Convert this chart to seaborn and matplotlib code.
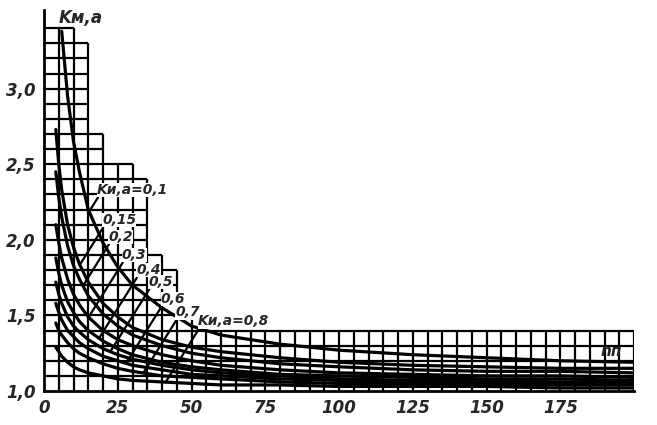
import numpy as np
import pandas as pd
import matplotlib
matplotlib.use("Agg")
import matplotlib.pyplot as plt
import seaborn as sns

# ---- data ----
n_vals = [4, 5, 6, 8, 10, 12, 15, 20, 25, 30, 40, 50, 60, 80, 100, 125, 150, 175, 200]
ku_labels = ["0,1", "0,15", "0,2", "0,3", "0,4", "0,5", "0,6", "0,7", "0,8"]
k_01 = [None, None, 3.38, 2.95, 2.65, 2.45, 2.20, 1.98, 1.82, 1.70, 1.55, 1.43, 1.37, 1.31, 1.27, 1.24, 1.22, 1.20, 1.19]
k_015 = [2.73, 2.50, 2.33, 2.10, 1.95, 1.84, 1.72, 1.58, 1.49, 1.42, 1.34, 1.29, 1.26, 1.22, 1.19, 1.17, 1.16, 1.15, 1.15]
k_02 = [2.45, 2.28, 2.15, 1.96, 1.83, 1.74, 1.63, 1.51, 1.43, 1.37, 1.30, 1.25, 1.22, 1.18, 1.16, 1.14, 1.13, 1.13, 1.12]
k_03 = [2.10, 1.98, 1.88, 1.74, 1.64, 1.57, 1.49, 1.40, 1.34, 1.30, 1.24, 1.20, 1.17, 1.14, 1.12, 1.11, 1.10, 1.10, 1.09]
k_04 = [1.88, 1.78, 1.70, 1.59, 1.52, 1.46, 1.40, 1.33, 1.28, 1.24, 1.19, 1.16, 1.14, 1.11, 1.10, 1.09, 1.08, 1.08, 1.07]
k_05 = [1.72, 1.64, 1.58, 1.49, 1.43, 1.39, 1.34, 1.28, 1.24, 1.21, 1.17, 1.14, 1.12, 1.10, 1.08, 1.07, 1.07, 1.06, 1.06]
k_06 = [1.58, 1.52, 1.47, 1.40, 1.36, 1.32, 1.28, 1.23, 1.20, 1.17, 1.14, 1.11, 1.10, 1.08, 1.07, 1.06, 1.05, 1.05, 1.05]
k_07 = [1.45, 1.40, 1.37, 1.32, 1.28, 1.25, 1.22, 1.18, 1.15, 1.13, 1.10, 1.09, 1.08, 1.06, 1.05, 1.05, 1.04, 1.04, 1.04]
k_08 = [1.29, 1.26, 1.23, 1.19, 1.16, 1.14, 1.12, 1.10, 1.08, 1.07, 1.06, 1.05, 1.04, 1.04, 1.03, 1.03, 1.03, 1.02, 1.02]
curves = [k_01, k_015, k_02, k_03, k_04, k_05, k_06, k_07, k_08]

x_ticks = [0, 25, 50, 75, 100, 125, 150, 175]
x_tick_labels = ["0", "25", "50", "75", "100", "125", "150", "175"]
y_ticks = [1.0, 1.5, 2.0, 2.5, 3.0]
y_tick_labels = ["1,0", "1,5", "2,0", "2,5", "3,0"]

# stepped outline of the printed grid: (x from, x to, top K)
step_x0 = [0, 10, 15, 20, 30, 35, 40, 45, 50]
step_x1 = [10, 15, 20, 30, 35, 40, 45, 50, 200]
step_top = [3.4, 3.3, 2.7, 2.5, 2.4, 1.9, 1.8, 1.5, 1.4]

# curve labels: text and label position (left, centre)
lab_text = ["Kи,а=0,1", "0,15", "0,2", "0,3", "0,4", "0,5", "0,6", "0,7", "Kи,а=0,8"]
lab_x = [18.0, 19.7, 21.7, 26.4, 31.2, 35.3, 39.6, 44.6, 52.2]
lab_y = [2.33, 2.13, 2.02, 1.90, 1.80, 1.72, 1.61, 1.52, 1.46]

# ---- figure ----
sns.set_theme(style="white")
plt.rcParams["font.family"] = ["DejaVu Sans"]
fig = plt.figure(figsize=(6.57, 4.25), dpi=100)
ax = fig.add_axes([44 / 657, 1 - 391 / 425, (634 - 44) / 657, (391 - 10) / 425])
ax.set_xlim(0, 200)
ax.set_ylim(1.0, 3.52)

def top_at(x):
    best = 1.0
    for a, b, t in zip(step_x0, step_x1, step_top):
        if a - 1e-9 <= x <= b + 1e-9:
            best = max(best, t)
    return best

grid_lw = 1.6
for gx in np.arange(5, 201, 5):
    ax.vlines(gx, 1.0, top_at(gx), color="black", lw=grid_lw, zorder=1)
for gy in np.round(np.arange(1.1, 3.41, 0.1), 2):
    xr = max([b for b, t in zip(step_x1, step_top) if t >= gy - 1e-9] + [0])
    ax.hlines(gy, 0, xr, color="black", lw=grid_lw, zorder=1)

rows = []
for lab, ks in zip(ku_labels, curves):
    for n, k in zip(n_vals, ks):
        if k is not None:
            rows.append({"n": n, "K": k, "Ku": lab})
df = pd.DataFrame(rows)
sns.lineplot(data=df, x="n", y="K", hue="Ku", palette=["black"] * len(ku_labels),
             lw=2.3, legend=False, ax=ax, zorder=3)

# leader lines: straight strokes from each label down-left until they meet their curve
slope = 1.6 * (590 / 200) / (381 / 2.52)   # steep stroke, in data units per unit n
for t, x, y, ks in zip(lab_text, lab_x, lab_y, curves):
    xs = [n for n, k in zip(n_vals, ks) if k is not None]
    ys = [k for k in ks if k is not None]
    x0, y0 = x + 0.3, y - 0.05
    nn = np.linspace(x0, xs[0], 800)
    line_k = y0 - slope * (x0 - nn)
    diff = line_k - np.interp(nn, xs, ys)
    idx = int(np.argmax(diff <= 0)) if np.any(diff <= 0) else len(nn) - 1
    ax.plot([nn[idx], x0], [line_k[idx], y0], color="black", lw=1.6, zorder=3)
    ax.text(x, y, t, fontsize=10, fontstyle="italic", fontweight="bold",
            ha="left", va="center", zorder=4,
            bbox=dict(facecolor="white", edgecolor="none", pad=0.1))

for s in ["top", "right"]:
    ax.spines[s].set_visible(False)
for s in ["left", "bottom"]:
    ax.spines[s].set_color("black")
    ax.spines[s].set_linewidth(2.0)

ax.set_xticks(x_ticks)
ax.set_xticklabels(x_tick_labels, fontsize=12, fontstyle="italic", fontweight="bold")
ax.set_yticks(y_ticks)
ax.set_yticklabels(y_tick_labels, fontsize=12, fontstyle="italic", fontweight="bold")
ax.tick_params(length=0, pad=6)
ax.set_xlabel("")
ax.set_ylabel("")

ax.text(5, 3.47, "Kм,а", fontsize=12, fontstyle="italic", fontweight="bold", ha="left", va="center")
ax.text(188.5, 1.26, "nп", fontsize=11, fontstyle="italic", fontweight="bold", ha="left", va="center")

fig.savefig("out.png", dpi=100, facecolor="white")
